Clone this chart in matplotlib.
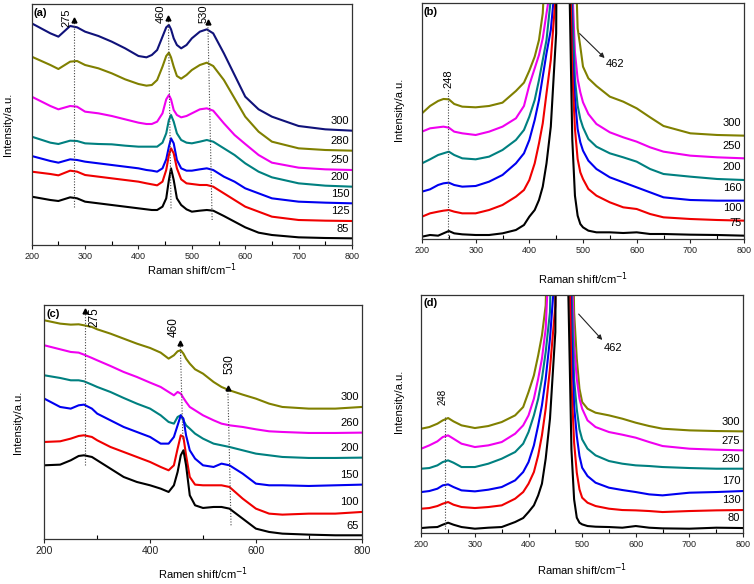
import matplotlib
matplotlib.use('Agg')
import matplotlib.pyplot as plt
from matplotlib.ticker import MultipleLocator

plt.rcParams['font.family'] = ['Liberation Sans', 'DejaVu Sans']

# ---------------- data ----------------
# Panel (a)
xa = [200, 235, 250, 272, 285, 300, 325, 350, 375, 400, 415, 425, 435, 445, 452, 457, 461, 466, 472, 480,
      490, 500, 515, 528, 540, 560, 580, 600, 625, 650, 700, 750, 800]
a_300 = [665, 635, 625, 657, 653, 640, 627, 610, 590, 567, 563, 570, 585, 625, 653, 660, 647, 620, 600, 590,
         600, 620, 640, 647, 635, 575, 510, 445, 407, 385, 357, 347, 343]
a_280 = [565, 540, 528, 550, 552, 540, 530, 515, 497, 483, 478, 480, 495, 535, 567, 577, 563, 535, 507, 499,
         510, 525, 540, 547, 537, 495, 440, 385, 340, 310, 290, 285, 283]
a_250 = [445, 417, 407, 417, 415, 400, 395, 387, 377, 367, 363, 363, 370, 395, 437, 450, 437, 405, 390, 383,
         387, 395, 407, 410, 403, 365, 330, 303, 270, 247, 232, 227, 225]
a_200 = [325, 307, 303, 313, 312, 305, 303, 302, 298, 295, 295, 295, 295, 307, 335, 375, 390, 370, 335, 315,
         307, 305, 310, 315, 310, 290, 270, 245, 220, 203, 185, 178, 175]
a_150 = [267, 252, 247, 257, 255, 250, 245, 240, 235, 230, 225, 223, 220, 230, 257, 295, 320, 305, 255, 230,
         223, 223, 227, 230, 225, 205, 190, 170, 155, 140, 130, 127, 125]
a_125 = [220, 213, 209, 223, 220, 210, 205, 200, 195, 190, 185, 182, 179, 190, 225, 270, 290, 275, 230, 197,
         185, 183, 180, 180, 175, 155, 135, 115, 100, 85, 75, 73, 72]
a_85 = [145, 135, 132, 143, 140, 130, 125, 120, 115, 110, 107, 105, 105, 115, 140, 195, 230, 195, 140, 120,
        107, 100, 103, 105, 103, 87, 70, 53, 37, 30, 23, 21, 20]
a_labels = ['300', '280', '250', '200', '150', '125', '85']

# Panel (b)
xb = [200, 215, 230, 240, 250, 260, 275, 300, 325, 350, 375, 390, 400, 410, 418, 425, 432, 440, 450, 462,
      472, 480, 485, 490, 495, 500, 510, 525, 550, 575, 600, 625, 650, 700, 750, 800]
b_300 = [377, 399, 414, 420, 419, 405, 397, 395, 399, 409, 444, 469, 505, 547, 597, 677, 900, 1400, 2500, 4000,
         3000, 1800, 900, 632, 577, 517, 482, 459, 427, 412, 392, 365, 339, 317, 312, 310]
b_250 = [322, 332, 335, 337, 334, 322, 317, 312, 322, 337, 362, 399, 462, 512, 552, 602, 677, 760, 2000, 4000,
         2500, 760, 560, 480, 440, 410, 375, 345, 320, 305, 292, 275, 262, 250, 245, 242]
b_200 = [227, 239, 252, 257, 262, 252, 242, 239, 247, 267, 297, 327, 367, 417, 477, 537, 597, 720, 1500, 4000,
         1800, 690, 480, 400, 360, 335, 300, 277, 257, 245, 232, 210, 195, 187, 180, 177]
b_160 = [142, 149, 162, 167, 169, 162, 157, 159, 172, 192, 227, 257, 297, 357, 417, 487, 557, 627, 800, 4000,
         1200, 560, 420, 330, 290, 265, 235, 210, 185, 170, 155, 140, 125, 117, 115, 115]
b_100 = [67, 77, 82, 85, 87, 82, 77, 77, 87, 102, 127, 147, 177, 227, 287, 347, 437, 537, 750, 4000,
         1100, 500, 330, 240, 200, 180, 150, 130, 110, 95, 90, 75, 65, 60, 57, 55]
b_75 = [7, 12, 10, 17, 24, 17, 14, 12, 12, 17, 27, 42, 67, 87, 117, 157, 227, 337, 617, 4000,
        1000, 300, 130, 70, 45, 35, 25, 20, 20, 18, 20, 15, 15, 13, 12, 10]
b_labels = ['300', '250', '200', '160', '100', '75']

# Panel (c)
xc = [200, 230, 250, 265, 275, 290, 300, 325, 350, 375, 400, 420, 435, 445, 452, 458, 463, 468, 475, 485,
      500, 520, 535, 550, 575, 600, 625, 650, 700, 750, 800]
c_300 = [657, 647, 644, 645, 642, 637, 630, 617, 602, 587, 574, 560, 542, 552, 564, 567, 557, 542, 527, 510,
         497, 472, 457, 447, 434, 422, 407, 397, 392, 392, 397]
c_260 = [582, 570, 562, 560, 554, 544, 537, 520, 502, 487, 470, 457, 442, 432, 442, 437, 424, 412, 397, 387,
         372, 357, 347, 342, 337, 330, 324, 322, 319, 319, 320]
c_200 = [492, 484, 477, 477, 474, 464, 457, 442, 424, 407, 392, 372, 352, 347, 367, 372, 357, 342, 332, 317,
         302, 287, 282, 277, 267, 257, 252, 247, 244, 244, 245]
c_150 = [422, 397, 392, 402, 404, 392, 377, 357, 337, 322, 307, 287, 287, 307, 342, 372, 362, 312, 267, 242,
         222, 217, 227, 222, 197, 167, 162, 162, 160, 162, 164]
c_100 = [292, 294, 302, 310, 312, 307, 297, 277, 262, 247, 232, 217, 207, 222, 272, 312, 307, 252, 187, 164,
         162, 162, 162, 157, 122, 92, 77, 74, 77, 77, 82]
c_65 = [222, 224, 237, 250, 252, 247, 237, 212, 187, 172, 162, 152, 142, 162, 202, 252, 267, 222, 132, 102,
        94, 97, 97, 92, 62, 32, 22, 17, 14, 12, 12]
c_labels = ['300', '260', '200', '150', '100', '65']

# Panel (d)
xd = xb
d_300 = [312, 317, 327, 337, 344, 334, 322, 314, 320, 332, 352, 377, 422, 472, 532, 592, 682, 1200, 2500, 4000,
         2500, 1200, 662, 522, 432, 392, 372, 360, 352, 342, 330, 320, 312, 307, 305, 304]
d_275 = [252, 262, 274, 287, 292, 282, 267, 257, 262, 272, 297, 322, 352, 402, 462, 522, 612, 900, 2000, 4000,
         2000, 850, 562, 462, 402, 372, 337, 317, 302, 294, 285, 272, 260, 252, 249, 247]
d_230 = [192, 194, 202, 212, 217, 210, 197, 197, 207, 222, 242, 267, 302, 352, 402, 462, 542, 662, 1500, 4000,
         1800, 740, 460, 370, 310, 280, 252, 232, 215, 207, 202, 200, 197, 194, 192, 192]
d_170 = [122, 125, 132, 142, 145, 137, 127, 124, 129, 137, 157, 182, 212, 262, 322, 382, 462, 582, 800, 4000,
         1500, 600, 380, 290, 230, 195, 170, 150, 135, 128, 122, 115, 112, 120, 122, 125]
d_130 = [72, 74, 80, 87, 92, 84, 77, 74, 77, 82, 102, 122, 147, 182, 232, 292, 372, 492, 682, 4000,
         1300, 450, 270, 180, 130, 105, 90, 80, 72, 68, 67, 65, 62, 65, 67, 68]
d_80 = [14, 16, 17, 24, 30, 24, 17, 12, 15, 17, 32, 44, 62, 82, 112, 147, 222, 342, 602, 4000,
        900, 250, 100, 45, 30, 25, 20, 18, 17, 15, 20, 15, 13, 12, 15, 14]
d_labels = ['300', '275', '230', '170', '130', '80']

navy, olive, magenta, teal, blue, red, black = '#10127a', '#808000', '#f000f0', '#008080', '#0000f0', '#f00000', '#000000'

# ---------------- figure ----------------
fig = plt.figure(figsize=(7.54, 5.84), dpi=100)
W, H = 754.0, 584.0


def make_ax(l, t, r, b):
    return fig.add_axes([l / W, 1 - b / H, (r - l) / W, (b - t) / H])


def style(ax, ylim, major, tag, xl_coords, yl_coords, xlabel):
    ax.set_xlim(200, 800)
    ax.set_ylim(0, ylim)
    ax.set_yticks([])
    ax.xaxis.set_major_locator(MultipleLocator(major))
    ax.xaxis.set_minor_locator(MultipleLocator(major / 2))
    ax.tick_params(axis='x', which='major', direction='out', length=3, width=0.8, labelsize=6.5, pad=2,
                   colors='#222222')
    ax.tick_params(axis='x', which='minor', direction='in', length=3, width=0.8)
    for s in ax.spines.values():
        s.set_linewidth(0.9)
        s.set_color('#333333')
    ax.set_ylabel('Intensity/a.u.', fontsize=8)
    ax.set_xlabel(xlabel, fontsize=8)
    ax.yaxis.set_label_coords(*yl_coords)
    ax.xaxis.set_label_coords(*xl_coords)
    ax.text(0.006, 0.985, tag, transform=ax.transAxes, fontsize=8, fontweight='bold', va='top', ha='left')


def curves(ax, x, series, labels, colors, dy):
    for y, lab, c in zip(series, labels, colors):
        ax.plot(x, y, color=c, lw=1.5, solid_joinstyle='round')
        ax.annotate(lab, xy=(x[-1], y[-1]), xytext=(-2, dy), textcoords='offset points',
                    ha='right', va='center', fontsize=8)


def marker_line(ax, x0, y0, x1, y1, tip=True):
    ax.plot([x0, x1], [y0, y1], ls=(0, (1, 1.5)), color='#444444', lw=0.8)
    if tip:
        ax.plot([x1], [y1], marker='^', ms=3.5, color='k', mec='k')


# (a)
axa = make_ax(31.7, 4, 352, 245)
curves(axa, xa, [a_300, a_280, a_250, a_200, a_150, a_125, a_85], a_labels,
       [navy, olive, magenta, teal, blue, red, black], 7)
style(axa, 723, 100, '(a)', (0.5, -0.07), (-0.058, 0.5), 'Raman shift/cm$^{-1}$')
marker_line(axa, 279, 115, 279, 676)
axa.text(265, 683, '275', rotation=90, ha='center', va='center', fontsize=8)
marker_line(axa, 461, 110, 456, 680)
axa.text(442, 693, '460', rotation=90, ha='center', va='center', fontsize=8)
marker_line(axa, 538, 75, 530, 668)
axa.text(522, 693, '530', rotation=90, ha='center', va='center', fontsize=8)

# (b)
axb = make_ax(422, 3.3, 744, 239)
curves(axb, xb, [b_300, b_250, b_200, b_160, b_100, b_75], b_labels,
       [olive, magenta, teal, blue, red, black], 9)
style(axb, 707, 100, '(b)', (0.5, -0.132), (-0.056, 0.55), 'Raman shift/cm$^{-1}$')
marker_line(axb, 248, 2, 248, 449, tip=False)
axb.text(250, 481, '248', rotation=90, ha='center', va='center', fontsize=8)
axb.annotate('', xy=(544, 537), xytext=(490, 622),
             arrowprops=dict(arrowstyle='-|>', color='#222222', lw=0.8, mutation_scale=7))
axb.text(560, 524, '462', ha='center', va='center', fontsize=8)

# (c)
axc = make_ax(44.3, 305.3, 361.7, 539.3)
curves(axc, xc, [c_300, c_260, c_200, c_150, c_100, c_65], c_labels,
       [olive, magenta, teal, blue, red, black], 7)
style(axc, 702, 200, '(c)', (0.5, -0.11), (-0.066, 0.5), 'Ramen shift/cm$^{-1}$')
axc.tick_params(axis='x', which='major', labelsize=7.5)
marker_line(axc, 277, 222, 277, 686)
axc.text(294, 667, '275', rotation=90, ha='center', va='center', fontsize=8.5)
marker_line(axc, 462, 300, 457, 590)
axc.text(445, 637, '460', rotation=90, ha='center', va='center', fontsize=8.5)
marker_line(axc, 553, 42, 547, 453)
axc.text(551, 525, '530', rotation=90, ha='center', va='center', fontsize=8.5)

# (d)
axd = make_ax(421.3, 294.7, 743, 532.7)
curves(axd, xd, [d_300, d_275, d_230, d_170, d_130, d_80], d_labels,
       [olive, magenta, teal, blue, red, black], 7)
style(axd, 714, 100, '(d)', (0.5, -0.122), (-0.053, 0.55), 'Raman shift/cm$^{-1}$')
marker_line(axd, 245, 12, 245, 347, tip=False)
axd.text(239, 407, '248', rotation=90, ha='center', va='center', fontsize=7)
axd.annotate('', xy=(541, 572), xytext=(490, 662),
             arrowprops=dict(arrowstyle='-|>', color='#222222', lw=0.8, mutation_scale=7))
axd.text(558, 554, '462', ha='center', va='center', fontsize=8)

fig.savefig('out.png', dpi=100, facecolor='white')
